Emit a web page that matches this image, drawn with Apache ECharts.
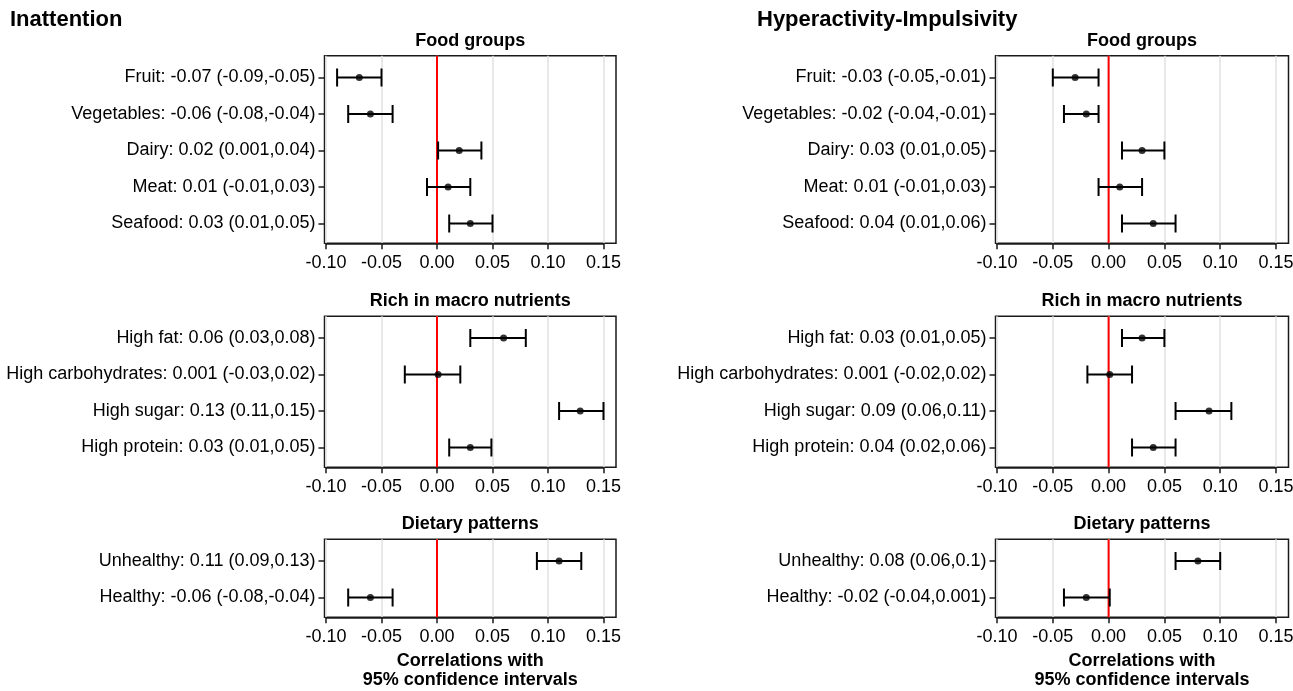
<!DOCTYPE html>
<html>
<head>
<meta charset="utf-8">
<script src="https://cdn.jsdelivr.net/npm/echarts@6/dist/echarts.min.js"></script>
<style>
  html, body { margin: 0; padding: 0; background: #fff; }
  #chart { width: 1293px; height: 691px; }
</style>
</head>
<body>
<div id="chart"></div>
<script>
// x axis ticks shared by every panel
const tickMin = -0.10
const tickMax = 0.15
const tickStep = 0.05

// Inattention
const inattFoodLabels = ['Fruit: -0.07 (-0.09,-0.05)', 'Vegetables: -0.06 (-0.08,-0.04)', 'Dairy: 0.02 (0.001,0.04)', 'Meat: 0.01 (-0.01,0.03)', 'Seafood: 0.03 (0.01,0.05)']
const inattFoodEst = [-0.070, -0.060, 0.020, 0.010, 0.030]
const inattFoodLow = [-0.090, -0.080, 0.001, -0.009, 0.011]
const inattFoodHigh = [-0.050, -0.040, 0.040, 0.030, 0.050]

const inattMacroLabels = ['High fat: 0.06 (0.03,0.08)', 'High carbohydrates: 0.001 (-0.03,0.02)', 'High sugar: 0.13 (0.11,0.15)', 'High protein: 0.03 (0.01,0.05)']
const inattMacroEst = [0.060, 0.001, 0.129, 0.030]
const inattMacroLow = [0.030, -0.029, 0.110, 0.011]
const inattMacroHigh = [0.080, 0.021, 0.150, 0.049]

const inattDietLabels = ['Unhealthy: 0.11 (0.09,0.13)', 'Healthy: -0.06 (-0.08,-0.04)']
const inattDietEst = [0.110, -0.060]
const inattDietLow = [0.090, -0.080]
const inattDietHigh = [0.130, -0.040]

// Hyperactivity-Impulsivity
const hyperFoodLabels = ['Fruit: -0.03 (-0.05,-0.01)', 'Vegetables: -0.02 (-0.04,-0.01)', 'Dairy: 0.03 (0.01,0.05)', 'Meat: 0.01 (-0.01,0.03)', 'Seafood: 0.04 (0.01,0.06)']
const hyperFoodEst = [-0.030, -0.020, 0.030, 0.010, 0.040]
const hyperFoodLow = [-0.050, -0.040, 0.012, -0.009, 0.012]
const hyperFoodHigh = [-0.009, -0.009, 0.050, 0.030, 0.060]

const hyperMacroLabels = ['High fat: 0.03 (0.01,0.05)', 'High carbohydrates: 0.001 (-0.02,0.02)', 'High sugar: 0.09 (0.06,0.11)', 'High protein: 0.04 (0.02,0.06)']
const hyperMacroEst = [0.030, 0.001, 0.090, 0.040]
const hyperMacroLow = [0.012, -0.019, 0.060, 0.021]
const hyperMacroHigh = [0.050, 0.021, 0.110, 0.060]

const hyperDietLabels = ['Unhealthy: 0.08 (0.06,0.1)', 'Healthy: -0.02 (-0.04,0.001)']
const hyperDietEst = [0.080, -0.020]
const hyperDietLow = [0.060, -0.040]
const hyperDietHigh = [0.100, 0.001]

const FONT = '"Liberation Sans", Arial, sans-serif'
const BAND = 36.5

// pixel span of the -0.10 .. 0.15 ticks for each column
const cols = [{ a0: 326, a1: 603.5 }, { a0: 997, a1: 1276 }]
// top of the first row band for each row of panels
const rowTops = [59.25, 319.75, 542.75]

const panels = [
  { col: 0, row: 0, title: 'Food groups', labels: inattFoodLabels, est: inattFoodEst, low: inattFoodLow, high: inattFoodHigh },
  { col: 0, row: 1, title: 'Rich in macro nutrients', labels: inattMacroLabels, est: inattMacroEst, low: inattMacroLow, high: inattMacroHigh },
  { col: 0, row: 2, title: 'Dietary patterns', labels: inattDietLabels, est: inattDietEst, low: inattDietLow, high: inattDietHigh },
  { col: 1, row: 0, title: 'Food groups', labels: hyperFoodLabels, est: hyperFoodEst, low: hyperFoodLow, high: hyperFoodHigh },
  { col: 1, row: 1, title: 'Rich in macro nutrients', labels: hyperMacroLabels, est: hyperMacroEst, low: hyperMacroLow, high: hyperMacroHigh },
  { col: 1, row: 2, title: 'Dietary patterns', labels: hyperDietLabels, est: hyperDietEst, low: hyperDietLow, high: hyperDietHigh }
]

const grid = []
const xAxis = []
const yAxis = []
const series = []
const graphic = []

const gridBase = { containLabel: false, outerBoundsMode: 'none' }

panels.forEach(p => {
  const c = cols[p.col]
  const top = rowTops[p.row]
  const h = p.labels.length * BAND
  const boxLeft = c.a0 - 1.5
  const boxRight = c.a1 + 12.5
  const boxTop = top - 3.5
  const boxBottom = top + h + 1.5

  // frame around the panel
  const gBox = grid.length
  grid.push({ ...gridBase, show: true, left: boxLeft, top: boxTop, width: boxRight - boxLeft, height: boxBottom - boxTop, borderColor: '#1a1a1a', borderWidth: 1.5, backgroundColor: 'transparent' })
  xAxis.push({ gridIndex: gBox, type: 'value', show: false, min: 0, max: 1 })
  yAxis.push({ gridIndex: gBox, type: 'value', show: false, min: 0, max: 1 })

  // light vertical grid lines + red zero line over full frame height
  const gLines = grid.length
  grid.push({ ...gridBase, left: c.a0, top: boxTop, width: c.a1 - c.a0, height: boxBottom - boxTop })
  xAxis.push({
    gridIndex: gLines, type: 'value', min: tickMin, max: tickMax, interval: tickStep,
    axisLine: { show: false }, axisTick: { show: false }, axisLabel: { show: false },
    splitLine: { show: true, lineStyle: { color: '#e2e2e2', width: 1.5 } }
  })
  yAxis.push({ gridIndex: gLines, type: 'value', min: 0, max: 1, show: false, splitLine: { show: false } })
  series.push({
    type: 'line', xAxisIndex: gLines, yAxisIndex: gLines, data: [[0, 0], [0, 1]],
    symbol: 'none', silent: true, lineStyle: { color: '#ff0000', width: 2 }, z: 3
  })

  // data grid
  const gData = grid.length
  grid.push({ ...gridBase, left: c.a0, top: top, width: c.a1 - c.a0, height: h })
  xAxis.push({
    gridIndex: gData, type: 'value', min: tickMin, max: tickMax, interval: tickStep, offset: 1.5,
    axisLine: { show: true, onZero: false, lineStyle: { color: '#1a1a1a', width: 1.5 } },
    axisTick: { show: true, length: 6, lineStyle: { color: '#1a1a1a', width: 1.5 } },
    axisLabel: { fontSize: 18, fontFamily: FONT, color: '#000', margin: 11, formatter: v => v.toFixed(2) },
    splitLine: { show: false }
  })
  yAxis.push({
    gridIndex: gData, type: 'category', data: p.labels, inverse: true, offset: 1.5,
    axisLine: { show: false, onZero: false },
    axisTick: { show: true, alignWithLabel: true, length: 6, lineStyle: { color: '#1a1a1a', width: 1.5 } },
    axisLabel: { fontSize: 18, fontFamily: FONT, color: '#000', margin: 9 },
    splitLine: { show: false }
  })

  series.push({
    type: 'custom', xAxisIndex: gData, yAxisIndex: gData, z: 4,
    data: p.labels.map((_, i) => [p.low[i], p.high[i], i]),
    encode: { x: [0, 1], y: 2 },
    renderItem: (params, api) => {
      const a = api.coord([api.value(0), api.value(2)])
      const b = api.coord([api.value(1), api.value(2)])
      const cap = 9
      const st = { stroke: '#000', lineWidth: 2 }
      return {
        type: 'group',
        children: [
          { type: 'line', shape: { x1: a[0], y1: a[1], x2: b[0], y2: b[1] }, style: st },
          { type: 'line', shape: { x1: a[0], y1: a[1] - cap, x2: a[0], y2: a[1] + cap }, style: st },
          { type: 'line', shape: { x1: b[0], y1: b[1] - cap, x2: b[0], y2: b[1] + cap }, style: st }
        ]
      }
    }
  })
  series.push({
    type: 'scatter', xAxisIndex: gData, yAxisIndex: gData, z: 5,
    data: p.labels.map((_, i) => [p.est[i], i]),
    symbol: 'circle', symbolSize: 7, itemStyle: { color: '#000' }
  })

  // panel title
  graphic.push({
    type: 'text', x: (boxLeft + boxRight) / 2, y: boxTop - 15,
    style: { text: p.title, font: 'bold 18px ' + FONT, fill: '#000', textAlign: 'center', textVerticalAlign: 'middle' }
  })

  // axis title under the bottom panels
  if (p.row === 2) {
    graphic.push({
      type: 'text', x: (boxLeft + boxRight) / 2, y: 661,
      style: { text: 'Correlations with', font: 'bold 18px ' + FONT, fill: '#000', textAlign: 'center', textVerticalAlign: 'middle' }
    })
    graphic.push({
      type: 'text', x: (boxLeft + boxRight) / 2, y: 680,
      style: { text: '95% confidence intervals', font: 'bold 18px ' + FONT, fill: '#000', textAlign: 'center', textVerticalAlign: 'middle' }
    })
  }
})

graphic.push({ type: 'text', x: 10, y: 20, style: { text: 'Inattention', font: 'bold 22px ' + FONT, fill: '#000', textAlign: 'left', textVerticalAlign: 'middle' } })
graphic.push({ type: 'text', x: 757, y: 20, style: { text: 'Hyperactivity-Impulsivity', font: 'bold 22px ' + FONT, fill: '#000', textAlign: 'left', textVerticalAlign: 'middle' } })

const chart = echarts.init(document.getElementById('chart'), null, { renderer: 'canvas' })
chart.setOption({
  animation: false,
  backgroundColor: '#fff',
  tooltip: { show: false },
  grid,
  xAxis,
  yAxis,
  series,
  graphic
})
</script>
</body>
</html>
